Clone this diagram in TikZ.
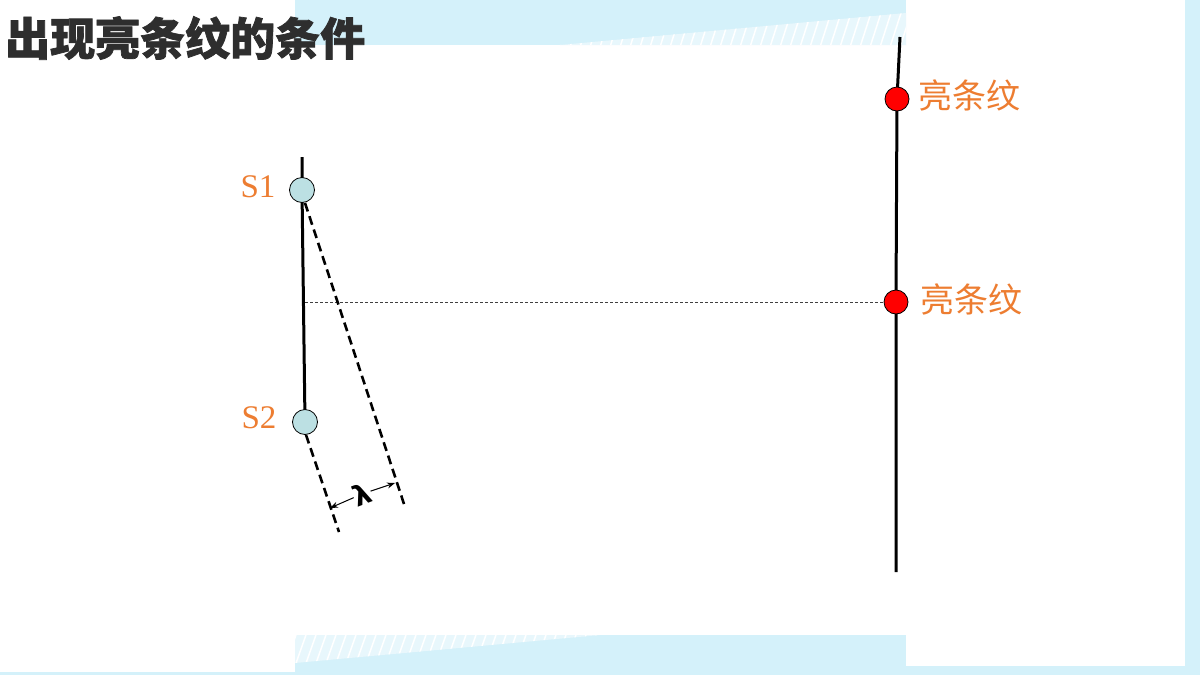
\documentclass[tikz,border=0pt]{standalone}
\usepackage{fontspec}
\newfontfamily\cjk{Noto Sans CJK SC}
\newfontfamily\cjktitle[FakeBold=1.6]{Noto Sans CJK SC}
\newfontfamily\serifo{Liberation Serif}
\newfontfamily\djv{DejaVu Sans}
\definecolor{bgblue}{HTML}{D4F1FA}
\definecolor{hatchblue}{HTML}{E8F7FC}
\definecolor{srcfill}{HTML}{BCE0E3}
\definecolor{lblorange}{HTML}{ED7D31}
\pgfdeclarelayer{back}
\pgfdeclarelayer{lines}
\pgfsetlayers{back,lines,main}
\tikzset{
  srcdot/.style={circle,draw=black,line width=0.8pt,fill=srcfill,minimum size=25pt,inner sep=0pt},
  brightdot/.style={circle,draw=black,line width=0.8pt,fill=red,minimum size=24pt,inner sep=0pt},
  screenline/.style={line width=3pt,black},
  rayline/.style={line width=2.6pt,black,dash pattern=on 9pt off 5pt},
  axisline/.style={line width=0.8pt,black!75,dash pattern=on 3pt off 2pt},
  dimarrow/.style={line width=1pt,black,-{Stealth[length=8pt,width=6pt]}},
  srclabel/.style={text=lblorange,font=\serifo\fontsize{33}{36}\selectfont,inner sep=0pt},
  brightlabel/.style={text=lblorange,font=\cjk\fontsize{34}{38}\selectfont,inner sep=0pt,anchor=west},
  titletext/.style={font=\cjktitle\bfseries\fontsize{45}{50}\selectfont,inner sep=0pt,anchor=west},
}
\usetikzlibrary{arrows.meta}
\begin{document}
\begin{tikzpicture}[x=1pt,y=-1pt]
\useasboundingbox (0,0) rectangle (1200,675);
\begin{pgfonlayer}{back}
  \fill[bgblue] (0,0) rectangle (1200,675);
  \fill[white] (0,0) rectangle (295,672);
  \fill[white] (295,45) rectangle (906,635);
  \fill[white] (906,0) rectangle (1185,666);
  % top hatched band
  \fill[hatchblue] (560,45) -- (906,13) -- (906,45) -- cycle;
  \begin{scope}
    \clip (560,45) -- (906,13) -- (906,45) -- cycle;
    \foreach \x in {560,570,...,920} \draw[white,line width=1.5pt] (\x,47) -- (\x+12,10);
  \end{scope}
  % bottom hatched band
  \fill[hatchblue] (295,635) -- (600,635) -- (295,663) -- cycle;
  \begin{scope}
    \clip (295,635) -- (600,635) -- (295,663) -- cycle;
    \foreach \x in {285,295,...,610} \draw[white,line width=1.5pt] (\x,666) -- (\x+12,632);
  \end{scope}
\end{pgfonlayer}

% title
\node[titletext,text=black!82] (title) at (5,38) {出现亮条纹的条件};

% sources
\node[srcdot] (s1) at (302,190) {};
\node[srcdot] (s2) at (305,422) {};
\node[srclabel] (l1) at (258,187) {S1};
\node[srclabel] (l2) at (259,418) {S2};

% bright fringes
\node[brightdot] (b1) at (897,99) {};
\node[brightdot] (b2) at (896,302) {};
\node[brightlabel] (t1) at (918,95) {亮条纹};
\node[brightlabel] (t2) at (920,299) {亮条纹};

% coordinates
\coordinate (lt) at (302,157);
\coordinate (rt) at (900,37);
\coordinate (rb) at (896,572);
\coordinate (mid) at (305,302);
\coordinate (d1) at (405,507);
\coordinate (d2) at (339,532);
\coordinate (la) at (330,508);
\coordinate (lb) at (395,483);

\begin{pgfonlayer}{lines}
  \draw[screenline] (lt) -- (s1.center) -- (s2.center);
  \draw[screenline] (rt) -- (b1.center) -- (b2.center) -- (rb);
  \draw[axisline] (mid) -- (b2.west);
\end{pgfonlayer}
\draw[rayline] (s1.south) ++(3,0) -- (d1);
\draw[rayline] (s2.south) ++(1,0) -- (d2);

% wavelength mark
\node[font=\djv\bfseries\fontsize{28}{30}\selectfont,rotate=21,inner sep=0pt] (lam) at (362,494) {λ};
\draw[dimarrow] (lam) -- (la);
\draw[dimarrow] (lam) -- (lb);
\end{tikzpicture}
\end{document}
